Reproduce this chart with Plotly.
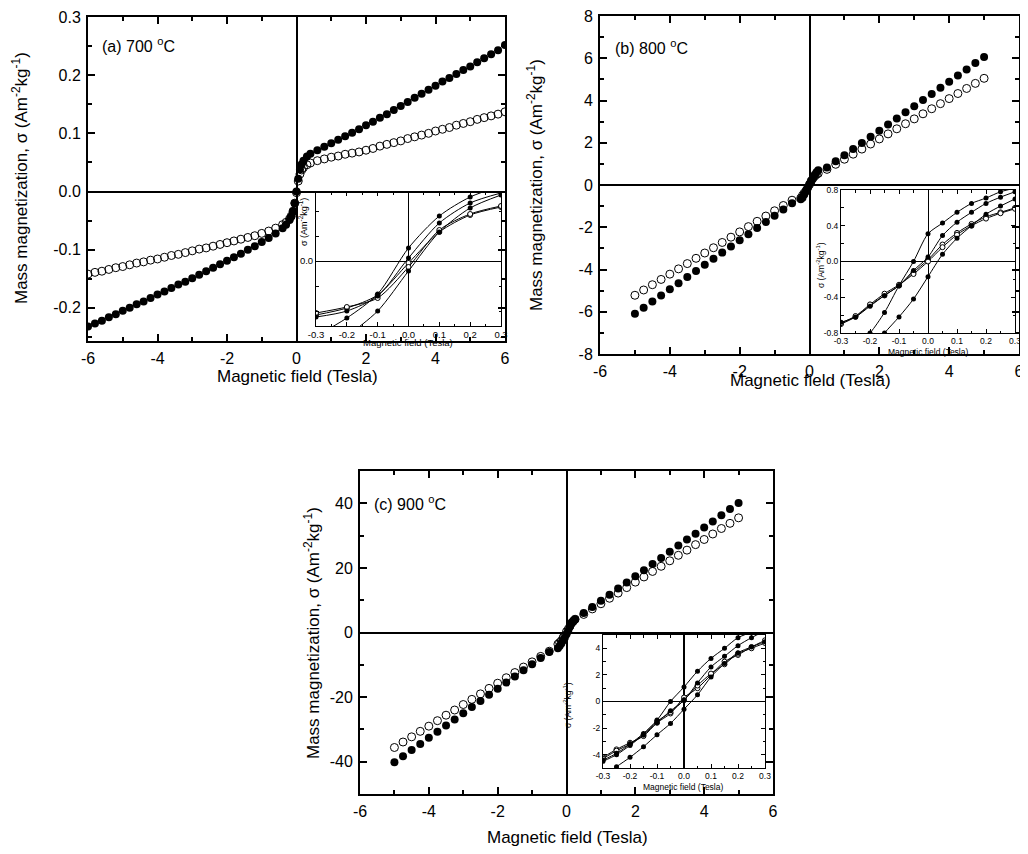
import plotly.graph_objects as go

# ---------------- data ----------------
FIELD_A = [-6.0, -5.8, -5.6, -5.4, -5.2, -5.0, -4.8, -4.6, -4.4, -4.2, -4.0, -3.8, -3.6, -3.4, -3.2,
           -3.0, -2.8, -2.6, -2.4, -2.2, -2.0, -1.8, -1.6, -1.4, -1.2, -1.0, -0.8, -0.6, -0.4,
           -0.3, -0.2, -0.15, -0.1, -0.05, 0.0, 0.05, 0.1, 0.15, 0.2, 0.3,
           0.4, 0.6, 0.8, 1.0, 1.2, 1.4, 1.6, 1.8, 2.0, 2.2, 2.4, 2.6, 2.8, 3.0, 3.2, 3.4, 3.6,
           3.8, 4.0, 4.2, 4.4, 4.6, 4.8, 5.0, 5.2, 5.4, 5.6, 5.8, 6.0]
SIGMA_A_FILLED = [-0.232, -0.227, -0.222, -0.216, -0.211, -0.205, -0.200, -0.194, -0.189, -0.183,
                  -0.177, -0.172, -0.166, -0.160, -0.155, -0.149, -0.143, -0.137, -0.131, -0.125,
                  -0.119, -0.113, -0.107, -0.100, -0.094, -0.087, -0.080, -0.072, -0.063,
                  -0.057, -0.049, -0.043, -0.034, -0.020, 0.000, 0.022, 0.038, 0.047, 0.053, 0.060,
                  0.065, 0.071, 0.077, 0.083, 0.089, 0.095, 0.101, 0.107, 0.114, 0.120, 0.127,
                  0.133, 0.140, 0.147, 0.154, 0.161, 0.168, 0.175, 0.182, 0.189, 0.195, 0.202,
                  0.209, 0.215, 0.222, 0.229, 0.236, 0.243, 0.252]
SIGMA_A_OPEN = [-0.142, -0.139, -0.137, -0.134, -0.131, -0.129, -0.126, -0.123, -0.121, -0.118,
                -0.116, -0.113, -0.110, -0.108, -0.105, -0.102, -0.099, -0.097, -0.094, -0.091,
                -0.088, -0.085, -0.082, -0.079, -0.076, -0.072, -0.068, -0.063, -0.057,
                -0.053, -0.047, -0.042, -0.034, -0.020, -0.002, 0.018, 0.030, 0.037, 0.041, 0.046,
                0.049, 0.053, 0.056, 0.059, 0.061, 0.064, 0.066, 0.068, 0.071, 0.074, 0.078,
                0.081, 0.084, 0.087, 0.091, 0.094, 0.097, 0.100, 0.104, 0.107, 0.110, 0.114,
                0.117, 0.120, 0.124, 0.127, 0.130, 0.133, 0.137]

FIELD_BC = [-5.0, -4.75, -4.5, -4.25, -4.0, -3.75, -3.5, -3.25, -3.0, -2.75, -2.5, -2.25, -2.0,
            -1.75, -1.5, -1.25, -1.0, -0.75, -0.5,
            -0.25, -0.2, -0.15, -0.1, -0.05, 0.0, 0.05, 0.1, 0.15, 0.2, 0.25,
            0.5, 0.75, 1.0, 1.25, 1.5, 1.75, 2.0, 2.25, 2.5, 2.75, 3.0, 3.25, 3.5, 3.75, 4.0,
            4.25, 4.5, 4.75, 5.0]
SIGMA_B_FILLED = [-6.10, -5.81, -5.52, -5.23, -4.94, -4.65, -4.36, -4.07, -3.78, -3.49, -3.20,
                  -2.91, -2.62, -2.33, -2.04, -1.75, -1.46, -1.16, -0.86,
                  -0.68, -0.60, -0.45, -0.30, -0.12, 0.05, 0.20, 0.35, 0.48, 0.60, 0.70,
                  0.83, 1.12, 1.41, 1.70, 1.99, 2.28, 2.57, 2.86, 3.15, 3.44, 3.73, 4.02, 4.31,
                  4.60, 4.89, 5.18, 5.47, 5.77, 6.06]
SIGMA_B_OPEN = [-5.22, -4.97, -4.72, -4.47, -4.22, -3.97, -3.72, -3.47, -3.22, -2.97, -2.72,
                -2.47, -2.22, -1.97, -1.72, -1.47, -1.22, -0.97, -0.72,
                -0.62, -0.49, -0.38, -0.27, -0.12, 0.02, 0.19, 0.32, 0.42, 0.50, 0.55,
                0.74, 0.98, 1.22, 1.46, 1.70, 1.94, 2.18, 2.42, 2.66, 2.90, 3.13, 3.37, 3.61,
                3.85, 4.09, 4.33, 4.57, 4.81, 5.05]
SIGMA_C_FILLED = [-40.2, -38.3, -36.4, -34.5, -32.6, -30.7, -28.8, -26.9, -25.0, -23.1, -21.2,
                  -19.3, -17.4, -15.5, -13.6, -11.7, -9.8, -7.9, -6.0,
                  -4.9, -4.2, -3.4, -2.5, -1.65, -0.58, 0.5, 1.85, 2.86, 3.67, 4.1,
                  6.0, 7.9, 9.8, 11.7, 13.6, 15.5, 17.4, 19.3, 21.2, 23.1, 25.0, 26.9, 28.8,
                  30.6, 32.5, 34.4, 36.3, 38.2, 40.1]
SIGMA_C_OPEN = [-35.6, -33.9, -32.3, -30.6, -29.0, -27.3, -25.6, -24.0, -22.3, -20.7, -19.0,
                -17.3, -15.7, -14.0, -12.4, -10.7, -9.1, -7.4, -5.8,
                -3.6, -3.1, -2.6, -1.6, -0.9, 0.3, 1.0, 2.0, 3.0, 3.5, 4.1,
                5.6, 7.3, 8.9, 10.6, 12.2, 13.9, 15.6, 17.2, 18.9, 20.5, 22.2, 23.9, 25.5,
                27.2, 28.8, 30.5, 32.2, 33.8, 35.5]

# insets (low-field loops)
INSET_A_FIELD = [-0.3, -0.2, -0.1, 0.0, 0.1, 0.2, 0.3]
INSET_A_FILLED = [
    [-0.075, -0.057, -0.033, 0.013, 0.045, 0.064, 0.075],
    [-0.095, -0.075, -0.050, -0.010, 0.029, 0.053, 0.066],
    [-0.056, -0.050, -0.035, 0.003, 0.038, 0.058, 0.068],
]
INSET_A_OPEN = [
    [-0.054, -0.047, -0.034, -0.002, 0.029, 0.046, 0.054],
    [-0.052, -0.046, -0.037, -0.006, 0.031, 0.047, 0.055],
]
INSET_BC_FIELD = [-0.3, -0.25, -0.2, -0.15, -0.1, -0.05, 0.0, 0.05, 0.1, 0.15, 0.2, 0.25, 0.3]
INSET_B_FILLED = [
    [-1.05, -0.95, -0.80, -0.57, -0.27, 0.00, 0.31, 0.43, 0.55, 0.65, 0.71, 0.78, 0.82],
    [-1.30, -1.15, -1.00, -0.80, -0.62, -0.42, -0.17, 0.08, 0.26, 0.40, 0.53, 0.62, 0.70],
    [-0.68, -0.62, -0.50, -0.38, -0.27, -0.10, 0.05, 0.29, 0.44, 0.55, 0.65, 0.72, 0.78],
]
INSET_B_OPEN = [
    [-0.70, -0.62, -0.49, -0.38, -0.27, -0.12, 0.02, 0.19, 0.32, 0.42, 0.50, 0.55, 0.60],
    [-0.69, -0.61, -0.48, -0.36, -0.26, -0.14, 0.00, 0.16, 0.30, 0.40, 0.48, 0.54, 0.59],
]
INSET_C_FILLED = [
    [-4.4, -3.9, -3.2, -2.4, -1.4, 0.0, 1.09, 2.28, 3.24, 4.0, 4.8, 5.2, 5.6],
    [-5.6, -4.9, -4.2, -3.4, -2.5, -1.65, -0.58, 0.5, 1.85, 2.86, 3.67, 4.1, 4.5],
    [-4.5, -4.0, -3.3, -2.5, -1.6, -0.7, 0.1, 1.4, 2.6, 3.4, 4.2, 4.8, 5.3],
]
INSET_C_OPEN = [
    [-4.2, -3.6, -3.1, -2.6, -1.6, -0.9, 0.3, 1.0, 2.0, 3.0, 3.5, 4.1, 4.6],
    [-4.3, -3.7, -3.2, -2.5, -1.5, -0.8, 0.1, 1.2, 2.1, 2.8, 3.6, 4.0, 4.4],
]

# tick labels
X_MAIN_TICKS = [-6, -4, -2, 0, 2, 4, 6]
X_MAIN_TEXT = ["-6", "-4", "-2", "0", "2", "4", "6"]
Y_A_TICKS = [-0.2, -0.1, 0.0, 0.1, 0.2, 0.3]
Y_A_TEXT = ["-0.2", "-0.1", "0.0", "0.1", "0.2", "0.3"]
Y_B_TICKS = [-8, -6, -4, -2, 0, 2, 4, 6, 8]
Y_B_TEXT = ["-8", "-6", "-4", "-2", "0", "2", "4", "6", "8"]
Y_C_TICKS = [-40, -20, 0, 20, 40]
Y_C_TEXT = ["-40", "-20", "0", "20", "40"]
X_INSET_TICKS = [-0.3, -0.2, -0.1, 0.0, 0.1, 0.2, 0.3]
X_INSET_TEXT = ["-0.3", "-0.2", "-0.1", "0.0", "0.1", "0.2", "0.3"]
Y_INSET_A_TICKS = [0.0]
Y_INSET_A_TEXT = ["0.0"]
Y_INSET_B_TICKS = [-0.8, -0.4, 0.0, 0.4, 0.8]
Y_INSET_B_TEXT = ["-0.8", "-0.4", "0.0", "0.4", "0.8"]
Y_INSET_C_TICKS = [-4, -2, 0, 2, 4]
Y_INSET_C_TEXT = ["-4", "-2", "0", "2", "4"]

PANEL_LABELS = ["(a) 700 <sup>o</sup>C", "(b) 800 <sup>o</sup>C", "(c) 900 <sup>o</sup>C"]
X_TITLE = "Magnetic field (Tesla)"
Y_TITLE = "Mass magnetization, σ (Am<sup>-2</sup>kg<sup>-1</sup>)"
Y_INSET_TITLE = "σ (Am<sup>-2</sup>kg<sup>-1</sup>)"

FONT = "Liberation Sans, Arial, Helvetica, sans-serif"
# the page body has an 8 px default margin on every side; size the figure so the page fits
OFF = 8
W, H = 1028 - 2 * OFF, 854 - 2 * OFF


def px(x):
    return min(max((x - OFF) / W, 0.0), 1.0)


def py(y):
    return min(max(1 - (y - OFF) / H, 0.0), 1.0)


fig = go.Figure()


def main_scatter(xs, ys, ax, filled):
    if filled:
        marker = dict(symbol="circle", size=8, color="black")
    else:
        marker = dict(symbol="circle-open", size=8, color="black", line=dict(width=1))
    fig.add_trace(go.Scatter(x=xs, y=ys, mode="markers", marker=marker,
                             xaxis="x" + ax, yaxis="y" + ax, showlegend=False, hoverinfo="skip"))


def inset_curve(xs, ys, ax, filled):
    if filled:
        marker = dict(symbol="circle", size=5, color="black")
    else:
        marker = dict(symbol="circle", size=5, color="white", line=dict(width=1, color="black"))
    fig.add_trace(go.Scatter(x=xs, y=ys, mode="lines+markers", marker=marker,
                             line=dict(color="black", width=1, shape="spline", smoothing=0.8),
                             xaxis="x" + ax, yaxis="y" + ax, showlegend=False, hoverinfo="skip"))


main_scatter(FIELD_A, SIGMA_A_FILLED, "", True)
main_scatter(FIELD_A, SIGMA_A_OPEN, "", False)
main_scatter(FIELD_BC, SIGMA_B_FILLED, "2", True)
main_scatter(FIELD_BC, SIGMA_B_OPEN, "2", False)
main_scatter(FIELD_BC, SIGMA_C_FILLED, "3", True)
main_scatter(FIELD_BC, SIGMA_C_OPEN, "3", False)

for ys in INSET_A_OPEN:
    inset_curve(INSET_A_FIELD, ys, "4", False)
for ys in INSET_A_FILLED:
    inset_curve(INSET_A_FIELD, ys, "4", True)
for ys in INSET_B_OPEN:
    inset_curve(INSET_BC_FIELD, ys, "5", False)
for ys in INSET_B_FILLED:
    inset_curve(INSET_BC_FIELD, ys, "5", True)
for ys in INSET_C_OPEN:
    inset_curve(INSET_BC_FIELD, ys, "6", False)
for ys in INSET_C_FILLED:
    inset_curve(INSET_BC_FIELD, ys, "6", True)


def main_axis(domain, rng, tv, tt, minor_dtick, anchor):
    return dict(domain=domain, range=rng, anchor=anchor, tickmode="array", tickvals=tv, ticktext=tt,
                automargin=False, ticklabeloverflow="allow",
                showline=True, linecolor="black", linewidth=2, mirror="ticks",
                ticks="inside", ticklen=7, tickwidth=1.5, tickcolor="black",
                minor=dict(ticks="inside", ticklen=4, tickwidth=1.5, tickcolor="black",
                           tickmode="linear", dtick=minor_dtick, tick0=0, showgrid=False),
                showgrid=False, zeroline=True, zerolinecolor="black", zerolinewidth=2,
                tickfont=dict(family=FONT, size=16, color="black"), ticklabelstandoff=2)


def inset_axis(domain, rng, tv, tt, minor_dtick, anchor, zw=1, fs=9):
    return dict(domain=domain, range=rng, anchor=anchor, tickmode="array", tickvals=tv, ticktext=tt,
                automargin=False, ticklabeloverflow="allow",
                showline=True, linecolor="black", linewidth=1, mirror="ticks",
                ticks="inside", ticklen=4, tickwidth=1, tickcolor="black",
                minor=dict(ticks="inside", ticklen=2.5, tickwidth=1, tickcolor="black",
                           tickmode="linear", dtick=minor_dtick, tick0=0, showgrid=False),
                showgrid=False, zeroline=True, zerolinecolor="black", zerolinewidth=zw,
                tickfont=dict(family=FONT, size=fs, color="black"), ticklabelstandoff=0)


layout = dict(
    template="none",
    width=W, height=H, margin=dict(l=0, r=0, t=0, b=0, pad=0, autoexpand=False),
    paper_bgcolor="white", plot_bgcolor="rgba(0,0,0,0)", showlegend=False,
    font=dict(family=FONT, color="black"),
    xaxis=main_axis([px(88), px(505)], [-6, 6], X_MAIN_TICKS, X_MAIN_TEXT, 1, "y"),
    yaxis=main_axis([py(341), py(17)], [-0.257, 0.3], Y_A_TICKS, Y_A_TEXT, 0.05, "x"),
    xaxis2=main_axis([px(600), px(1019)], [-6, 6], X_MAIN_TICKS, X_MAIN_TEXT, 1, "y2"),
    yaxis2=main_axis([py(354), py(16)], [-8, 8], Y_B_TICKS, Y_B_TEXT, 1, "x2"),
    xaxis3=main_axis([px(360), px(773)], [-6, 6], X_MAIN_TICKS, X_MAIN_TEXT, 1, "y3"),
    yaxis3=main_axis([py(794), py(471)], [-50, 50], Y_C_TICKS, Y_C_TEXT, 10, "x3"),
    xaxis4=inset_axis([px(316), px(501)], [-0.3, 0.3], X_INSET_TICKS, X_INSET_TEXT, 0.05, "y4", fs=9.5),
    yaxis4=inset_axis([py(326), py(192)], [-0.065, 0.069], Y_INSET_A_TICKS, Y_INSET_A_TEXT, 0.025, "x4", fs=9.5),
    xaxis5=inset_axis([px(841), px(1015)], [-0.3, 0.3], X_INSET_TICKS, X_INSET_TEXT, 0.05, "y5", fs=8.5),
    yaxis5=inset_axis([py(333), py(190)], [-0.8, 0.8], Y_INSET_B_TICKS, Y_INSET_B_TEXT, 0.2, "x5", fs=8.5),
    xaxis6=inset_axis([px(603), px(765)], [-0.3, 0.3], X_INSET_TICKS, X_INSET_TEXT, 0.05, "y6", zw=2, fs=8.5),
    yaxis6=inset_axis([py(768), py(635)], [-5, 5], Y_INSET_C_TICKS, Y_INSET_C_TEXT, 1, "x6", fs=8.5),
)
fig.update_layout(**layout)

annots = []


def ann(text, x, y, size, angle=0, xanchor="center"):
    annots.append(dict(text=text, x=px(x), y=py(y), xref="paper", yref="paper", showarrow=False,
                       textangle=angle, xanchor=xanchor, yanchor="middle",
                       font=dict(family=FONT, size=size, color="black")))


# main titles
ann(X_TITLE, 297, 376, 17)
ann(Y_TITLE, 20, 178, 17, -90)
ann(X_TITLE, 810, 380, 17)
ann(Y_TITLE, 535, 185, 17, -90)
ann(X_TITLE, 567, 837, 17)
ann(Y_TITLE, 312, 633, 17, -90)
# panel labels
ann(PANEL_LABELS[0], 100, 45, 16, xanchor="left")
ann(PANEL_LABELS[1], 613, 47, 16, xanchor="left")
ann(PANEL_LABELS[2], 372, 503, 16, xanchor="left")
# inset titles
ann(X_TITLE, 408, 343, 9.5)
ann(Y_INSET_TITLE, 303, 222, 9, -90)
ann(X_TITLE, 928, 352, 8.5)
ann(Y_INSET_TITLE, 820, 265, 8.5, -90)
ann(X_TITLE, 683, 787, 8.5)
ann(Y_INSET_TITLE, 567, 705, 8.5, -90)

fig.update_layout(annotations=annots)
fig.write_html("out.html")
